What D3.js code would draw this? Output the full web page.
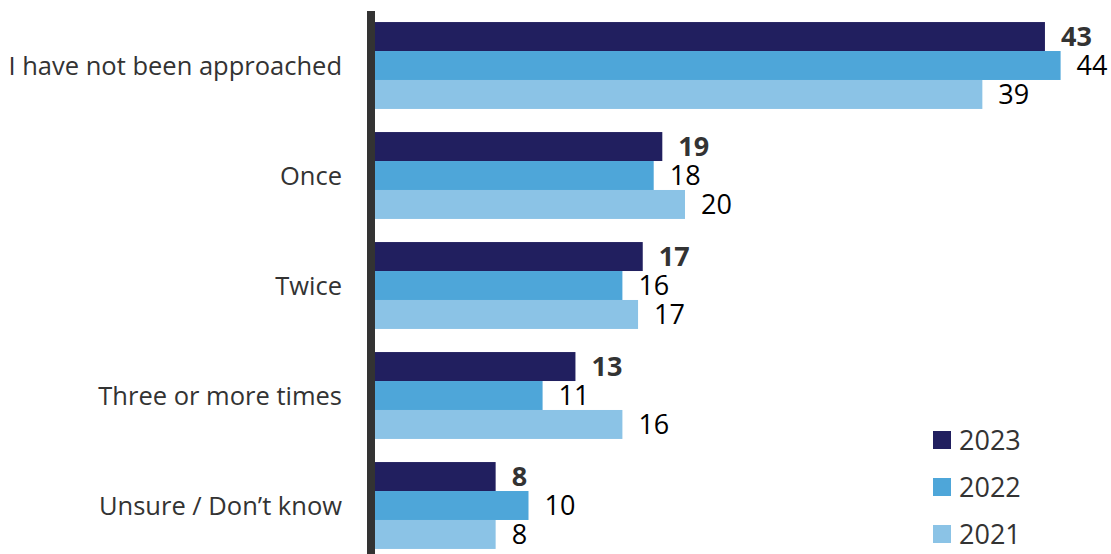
<!DOCTYPE html>
<html><head><meta charset="utf-8">
<script src="https://cdn.jsdelivr.net/npm/d3@7"></script>
<style>body{margin:0;background:#fff}</style>
</head><body>
<svg id="chart" width="1111" height="554"></svg>
<script>
const categories = ["I have not been approached","Once","Twice","Three or more times","Unsure / Don\u2019t know"];
const seriesNames = ["2023","2022","2021"];
const values2023 = [43,18.55,17.3,13,7.9];
const values2022 = [44,18,16,10.9,10];
const values2021 = [39,20,17,16,7.9];
const colors = ["#211F5F","#4EA6D9","#8BC3E6"];

const seriesVals = [values2023, values2022, values2021];
const svg = d3.select("#chart");
const font = "'Open Sans', sans-serif";
const fsCat = 25.5, fsVal = 27;

const x = d3.scaleLinear().domain([0,44]).range([372,1060.6]);
const y = d3.scaleBand().domain(categories).range([10.5,560.5]).paddingInner(0.21).paddingOuter(0.105);
const ys = d3.scaleBand().domain(seriesNames).range([0,y.bandwidth()]);

const g = svg.append("g");
categories.forEach((c,i)=>{
  seriesNames.forEach((s,j)=>{
    const v = seriesVals[j][i];
    g.append("rect").attr("x",x(0)).attr("y",y(c)+ys(s)).attr("width",x(v)-x(0)).attr("height",ys.bandwidth())
      .attr("fill",colors[j]);
    g.append("text").attr("x",x(v)+16).attr("y",y(c)+ys(s)+ys.bandwidth()/2).attr("dy","0.36em")
      .attr("font-family",font).attr("font-size",fsVal).attr("font-weight",j===0?"bold":"normal")
      .attr("fill",j===0?"#333":"#000").text(Math.round(v));
  });
  svg.append("text").attr("x",342).attr("y",y(c)+y.bandwidth()/2).attr("dy","0.36em").attr("text-anchor","end")
    .attr("font-family",font).attr("font-size",fsCat).attr("fill","#333").text(c);
});

svg.append("line").attr("x1",371).attr("x2",371).attr("y1",11).attr("y2",554).attr("stroke","#333").attr("stroke-width",8);

const leg = svg.append("g");
seriesNames.forEach((s,j)=>{
  const ly = 440 + j*47;
  leg.append("rect").attr("x",933).attr("y",ly-9).attr("width",18).attr("height",18).attr("fill",colors[j]);
  leg.append("text").attr("x",959).attr("y",ly).attr("dy","0.36em").attr("font-family",font).attr("font-size",fsVal).attr("fill","#333").text(s);
});
</script>
</body></html>
